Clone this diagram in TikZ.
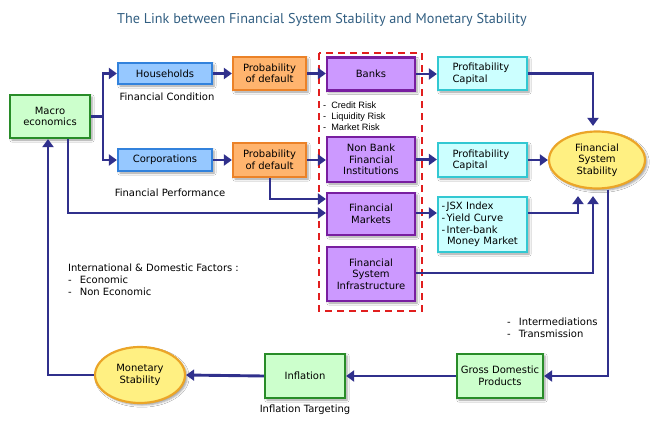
\documentclass[tikz,border=0pt]{standalone}
\usepackage{fontspec}
\setmainfont{DejaVu Sans}
\newfontfamily\titlefont{PT Sans}
\newfontfamily\riskfont{Liberation Sans}
\usetikzlibrary{arrows.meta,shapes.geometric,shadows.blur}
\definecolor{lnk}{RGB}{48,48,140}
\definecolor{grF}{RGB}{204,255,204}\definecolor{grD}{RGB}{40,140,40}
\definecolor{blF}{RGB}{150,200,255}\definecolor{blD}{RGB}{50,130,220}
\definecolor{orF}{RGB}{255,180,110}\definecolor{orD}{RGB}{235,130,40}
\definecolor{puF}{RGB}{204,153,255}\definecolor{puD}{RGB}{120,30,160}
\definecolor{cyF}{RGB}{204,255,255}\definecolor{cyD}{RGB}{50,200,210}
\definecolor{yeF}{RGB}{255,240,130}\definecolor{yeD}{RGB}{235,165,40}
\definecolor{ttl}{RGB}{50,95,130}
\definecolor{rdD}{RGB}{225,30,30}
\begin{document}
\begin{tikzpicture}[x=1pt,y=-1pt,
  every node/.style={font=\fontsize{10}{11.5}\selectfont, inner sep=2pt},
  box/.style={draw, line width=2.2pt, align=center,
     blur shadow={shadow xshift=2pt, shadow yshift=-2pt, shadow blur steps=4, shadow opacity=40}},
  gbox/.style={box, fill=grF, draw=grD},
  bbox/.style={box, fill=blF, draw=blD},
  obox/.style={box, fill=orF, draw=orD},
  pbox/.style={box, fill=puF, draw=puD},
  cbox/.style={box, fill=cyF, draw=cyD, align=left},
  ell/.style={ellipse, draw=yeD, fill=yeF, line width=2.2pt, align=center, inner sep=0pt,
     blur shadow={shadow xshift=2pt, shadow yshift=-2pt, shadow blur steps=4, shadow opacity=40}},
  arr/.style={draw=lnk, line width=2.9pt, -{Triangle[length=8pt,width=11pt]}},
  ln/.style={draw=lnk, line width=2.9pt},
  lbl/.style={font=\fontsize{10}{12}\selectfont, align=left}
]
\useasboundingbox (0,0) rectangle (655,423);
\fill[white] (0,0) rectangle (655,423);

\node[font=\titlefont\fontsize{14.2}{16}\selectfont, text=ttl] (title) at (322,20) {The Link between Financial System Stability and Monetary Stability};

% dashed frame
\draw[rdD, line width=2.4pt, dash pattern=on 7pt off 5pt] (319,53) rectangle (422,311);

% nodes
\node[gbox, minimum width=80pt, minimum height=43pt] (macro) at (50,116.5) {Macro\\economics};
\node[bbox, minimum width=94pt, minimum height=21pt] (house) at (165,73.5) {Households};
\node[bbox, minimum width=94pt, minimum height=22pt] (corp) at (165,160) {Corporations};
\node[obox, minimum width=73pt, minimum height=33pt] (prob1) at (269.5,73.5) {Probability\\of default};
\node[obox, minimum width=73pt, minimum height=34pt] (prob2) at (269.5,160) {Probability\\of default};
\node[pbox, minimum width=88pt, minimum height=33pt] (banks) at (371,74) {Banks};
\node[pbox, minimum width=88pt, minimum height=45pt] (nbfi) at (371,159.5) {Non Bank\\Financial\\Institutions};
\node[pbox, minimum width=88pt, minimum height=42pt] (fm) at (371,214) {Financial\\Markets};
\node[pbox, minimum width=88pt, minimum height=54pt] (fsi) at (371,274) {Financial\\System\\Infrastructure};
\node[cbox, minimum width=89pt, minimum height=33pt, text width=60pt] (pc1) at (482.5,73.5) {Profitability\\Capital};
\node[cbox, minimum width=89pt, minimum height=34pt, text width=60pt] (pc2) at (482.5,160) {Profitability\\Capital};
\node[cbox, minimum width=89pt, minimum height=55pt, text width=82pt, font=\fontsize{10}{11.7}\selectfont] (jsx) at (482.5,224.5) {-\hspace{1.5pt}JSX Index\\-\hspace{1.5pt}Yield Curve\\-\hspace{1.5pt}Inter-bank\\\hspace*{5.5pt}Money Market};
\node[ell, minimum width=96pt, minimum height=57pt] (fss) at (597,160) {Financial\\System\\Stability};
\node[gbox, minimum width=86pt, minimum height=44pt] (gdp) at (500,376) {Gross Domestic\\Products};
\node[gbox, minimum width=80pt, minimum height=44pt] (infl) at (305,376) {Inflation};
\node[ell, minimum width=90pt, minimum height=56pt] (mon) at (140,375) {Monetary\\Stability};

% labels
\node[lbl] (fcond) at (167,97) {Financial Condition};
\node[lbl] (fperf) at (170,193) {Financial Performance};
\node[anchor=west, align=left, font=\riskfont\fontsize{9.2}{11}\selectfont] (risk) at (321,116) {-\hspace{5pt}Credit Risk\\-\hspace{5pt}Liquidity Risk\\-\hspace{5pt}Market Risk};
\node[lbl, anchor=west] (intl) at (66,280) {International \& Domestic Factors :\\-\hspace{8pt}Economic\\-\hspace{8pt}Non Economic};
\node[lbl, anchor=west] (interm) at (505,328) {-\hspace{8pt}Intermediations\\-\hspace{8pt}Transmission};
\node[lbl] (itarg) at (305,410) {Inflation Targeting};

% connectors
\coordinate (mj) at (103,116.5);
\draw[ln] (macro.east) -- (mj);
\draw[arr] (mj) |- (house.west);
\draw[arr] (mj) |- (corp.west);
\draw[arr] (house.east) -- (house.east -| prob1.west);
\draw[arr] (corp.east) -- (corp.east -| prob2.west);
\draw[arr] (prob1.east) -- (prob1.east -| banks.west);
\draw[arr] (prob2.east) -- (prob2.east -| nbfi.west);
\draw[arr] ([xshift=0.5pt]prob2.south) |- ([yshift=15pt]fm.west);
\draw[arr] ([xshift=18pt]macro.south) |- ([yshift=1pt]fm.west);
\draw[arr] (banks.east) -- (banks.east -| pc1.west);
\draw[arr] (nbfi.east) -- (nbfi.east -| pc2.west);
\draw[arr] ([yshift=1pt]fm.east) -- ([yshift=1pt]fm.east -| jsx.west);
\draw[arr, shorten >=4.5pt] (pc1.east) -| ([xshift=-4pt]fss.north);
\draw[arr] (pc2.east) -- (fss.west);
\draw[arr, shorten >=6.5pt] ([yshift=11.5pt]jsx.east) -| ([xshift=-19pt]fss.south);
\draw[arr, shorten >=6.5pt] ([yshift=1pt]fsi.east) -| ([xshift=-4pt]fss.south);
\draw[arr] ([xshift=11pt]fss.south) |- (gdp.east);
\draw[arr] (gdp.west) -- (infl.east);
\draw[arr] (infl.west) -- (mon.east);
\draw[arr] (mon.west) -| ([xshift=-2pt]macro.south);
\end{tikzpicture}
\end{document}
